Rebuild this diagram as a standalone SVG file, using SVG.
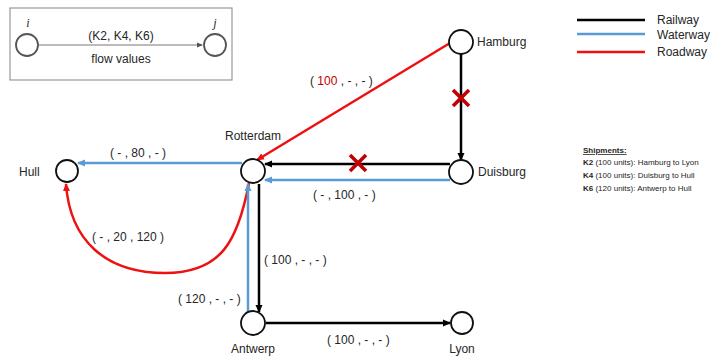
<svg xmlns="http://www.w3.org/2000/svg" width="716" height="358" viewBox="0 0 716 358">
<defs>
<style>
text{font-family:"Liberation Sans",Arial,sans-serif;fill:#262626}
.lbl{font-size:12px}
.fl{font-size:12px}
.node{fill:#fff;stroke:#111;stroke-width:1.8}
.rail{stroke:#000;stroke-width:2.5;fill:none}
.water{stroke:#5b9bd5;stroke-width:2.5;fill:none}
.road{stroke:#ee1111;stroke-width:2.5;fill:none}
.x{stroke:#c00000;stroke-width:3.5}
.sh{font-size:8px}
</style>
<marker id="ak" markerWidth="8" markerHeight="8" refX="7" refY="4" orient="auto" markerUnits="userSpaceOnUse"><path d="M0,0.5 L8,4 L0,7.5 Z" fill="#000"/></marker>
<marker id="ab" markerWidth="8" markerHeight="8" refX="7" refY="4" orient="auto" markerUnits="userSpaceOnUse"><path d="M0,0.5 L8,4 L0,7.5 Z" fill="#5b9bd5"/></marker>
<marker id="ar" markerWidth="8" markerHeight="8" refX="7" refY="4" orient="auto" markerUnits="userSpaceOnUse"><path d="M0,0.5 L8,4 L0,7.5 Z" fill="#ee1111"/></marker>
<marker id="ag" markerWidth="6" markerHeight="6" refX="5" refY="3" orient="auto" markerUnits="userSpaceOnUse"><path d="M0,0.5 L6,3 L0,5.5 Z" fill="#555"/></marker>
</defs>
<rect width="716" height="358" fill="#fff"/>

<g id="legend-box">
<rect x="10" y="8" width="222" height="72" fill="#fff" stroke="#999" stroke-width="1.2"/>
<line x1="39" y1="45" x2="202" y2="45" stroke="#777" stroke-width="1" marker-end="url(#ag)"/>
<circle cx="27" cy="45" r="11" fill="#fff" stroke="#555" stroke-width="1.8"/>
<circle cx="215" cy="45" r="11" fill="#fff" stroke="#555" stroke-width="1.8"/>
<text x="28" y="27" font-size="12" font-style="italic" text-anchor="middle" style="font-family:'Liberation Serif',serif">i</text>
<text x="215" y="27" font-size="12" font-style="italic" text-anchor="middle" style="font-family:'Liberation Serif',serif">j</text>
<text x="121" y="40" class="fl" text-anchor="middle">(K2, K4, K6)</text>
<text x="121" y="63" class="fl" text-anchor="middle">flow values</text>
</g>

<g id="legend-modes">
<line x1="577" y1="20" x2="645" y2="20" class="rail"/>
<line x1="577" y1="34" x2="645" y2="34" class="water"/>
<line x1="577" y1="52" x2="645" y2="52" class="road"/>
<text x="657" y="24" class="lbl">Railway</text>
<text x="657" y="39" class="lbl">Waterway</text>
<text x="657" y="56" class="lbl">Roadway</text>
</g>

<g id="shipments">
<text x="583" y="153" class="sh" font-weight="bold" text-decoration="underline">Shipments:</text>
<text x="583" y="165" class="sh"><tspan font-weight="bold">K2</tspan> (100 units): Hamburg to Lyon</text>
<text x="583" y="178" class="sh"><tspan font-weight="bold">K4</tspan> (100 units): Duisburg to Hull</text>
<text x="583" y="191" class="sh"><tspan font-weight="bold">K6</tspan> (120 units): Antwerp  to Hull</text>
</g>

<g id="connectors">
<line x1="450" y1="43" x2="257" y2="160" class="road" marker-end="url(#ar)"/>
<line x1="461" y1="54" x2="461" y2="160" class="rail" marker-end="url(#ak)"/>
<line x1="450" y1="164" x2="265" y2="164" class="rail" marker-end="url(#ak)"/>
<line x1="450" y1="180" x2="265" y2="180" class="water" marker-end="url(#ab)"/>
<line x1="242" y1="163" x2="78" y2="163" class="water" marker-end="url(#ab)"/>
<path d="M249,183 C238,240 222,273 165,273 C105,273 70,240 66,184" class="road" marker-end="url(#ar)"/>
<line x1="259" y1="184" x2="259" y2="312" class="rail" marker-end="url(#ak)"/>
<line x1="248" y1="312" x2="248" y2="184" class="water" marker-end="url(#ab)"/>
<line x1="266" y1="323" x2="450" y2="323" class="rail" marker-end="url(#ak)"/>
<g class="x">
<line x1="453" y1="90" x2="469" y2="106"/><line x1="469" y1="90" x2="453" y2="106"/>
<line x1="350" y1="155" x2="366" y2="171"/><line x1="366" y1="155" x2="350" y2="171"/>
</g>
<text x="310" y="85" class="lbl">( <tspan fill="#c00000">100</tspan> , - , - )</text>
<text x="110" y="157" class="lbl">( - , 80 , - )</text>
<text x="313" y="199" class="lbl">( - , 100 , - )</text>
<text x="92" y="241" class="lbl">( - , 20 , 120 )</text>
<text x="264" y="264" class="lbl">( 100 , - , - )</text>
<text x="178" y="303" class="lbl">( 120 , - , - )</text>
<text x="327" y="344" class="lbl">( 100 , - , - )</text>
</g>

<g id="hamburg"><circle cx="461" cy="42" r="12" class="node"/><text x="477" y="46" class="lbl">Hamburg</text></g>
<g id="duisburg"><circle cx="461" cy="172" r="12" class="node"/><text x="478" y="176" class="lbl">Duisburg</text></g>
<g id="rotterdam"><circle cx="253" cy="171" r="12" class="node"/><text x="253" y="140" class="lbl" text-anchor="middle">Rotterdam</text></g>
<g id="hull"><circle cx="67" cy="171" r="11" class="node"/><text x="19" y="176" class="lbl">Hull</text></g>
<g id="antwerp"><circle cx="253" cy="323" r="12" class="node"/><text x="253" y="353" class="lbl" text-anchor="middle">Antwerp</text></g>
<g id="lyon"><circle cx="462" cy="323" r="11" class="node"/><text x="462" y="353" class="lbl" text-anchor="middle">Lyon</text></g>
</svg>
